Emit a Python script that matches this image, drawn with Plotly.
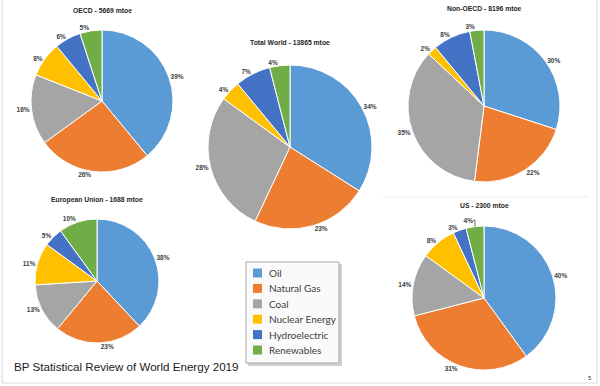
import plotly.graph_objects as go

W, H = 600, 386

sources = ["Oil", "Natural Gas", "Coal", "Nuclear Energy", "Hydroelectric", "Renewables"]
colors = ["#5B9BD5", "#ED7D31", "#A5A5A5", "#FFC000", "#4472C4", "#70AD47"]

oecd = [39, 26, 16, 8, 6, 5]
world = [34, 23, 28, 4, 7, 4]
non_oecd = [30, 22, 35, 2, 8, 3]
eu = [38, 23, 13, 11, 5, 10]
us = [40, 31, 14, 8, 3, 4]

titles = ["OECD - 5669 mtoe", "Total World - 13865 mtoe", "Non-OECD - 8196 mtoe",
          "European Union - 1688 mtoe", "US - 2300 mtoe"]
series = [oecd, world, non_oecd, eu, us]

# layout geometry (pixel centre x, centre y, radius, title y)
geom = [
    (102, 101, 71, 11),
    (290, 147, 82, 43),
    (484, 106, 76, 9),
    (97, 281, 62, 200),
    (484, 298, 72, 205),
]


def px(x):
    return x / W


def py(y):
    return 1 - y / H


fig = go.Figure()
annotations = []
shapes = []
for vals, ttl, (cx, cy, r, ty) in zip(series, titles, geom):
    fig.add_trace(go.Pie(
        labels=sources,
        values=vals,
        sort=False,
        direction="clockwise",
        rotation=0,
        marker=dict(colors=colors, line=dict(color="white", width=1)),
        texttemplate="%{value}%",
        textposition="outside",
        outsidetextfont=dict(family="Liberation Sans", size=6.5, color="#404040", weight="bold"),
        hoverinfo="skip",
        showlegend=False,
        domain=dict(x=[px(cx - r), px(cx + r)], y=[py(cy + r), py(cy - r)]),
    ))
    annotations.append(dict(
        text=f"<b>{ttl}</b>", x=px(cx), y=py(ty), xref="paper", yref="paper",
        xanchor="center", yanchor="middle", showarrow=False,
        font=dict(family="Liberation Sans", size=6.8, color="#262626"),
    ))

# legend box (drawn from the sources / colors lists)
lx0, lx1, ly0, ly1 = 246, 339, 262, 363
shapes.append(dict(type="rect", xref="paper", yref="paper",
                   x0=px(lx0 + 2), x1=px(lx1 + 3), y0=py(ly1 + 3), y1=py(ly0 + 2),
                   fillcolor="#d6d0cc", line=dict(width=0), layer="above"))
shapes.append(dict(type="rect", xref="paper", yref="paper",
                   x0=px(lx0), x1=px(lx1), y0=py(ly1), y1=py(ly0),
                   fillcolor="#fafafa", line=dict(color="#a6a6a6", width=1), layer="above"))
for k, (name, col) in enumerate(zip(sources, colors)):
    yc = 273 + k * 15.4
    shapes.append(dict(type="rect", xref="paper", yref="paper",
                       x0=px(253), x1=px(262), y0=py(yc + 4.5), y1=py(yc - 4.5),
                       fillcolor=col, line=dict(width=0), layer="above"))
    annotations.append(dict(
        text=name, x=px(267), y=py(yc), xref="paper", yref="paper",
        xanchor="left", yanchor="middle", showarrow=False,
        font=dict(family="Lato", size=10, color="#404040"),
    ))

annotations.append(dict(
    text="BP Statistical Review of World Energy 2019", x=px(12), y=py(366),
    xref="paper", yref="paper", xanchor="left", yanchor="middle", showarrow=False,
    font=dict(family="Liberation Sans", size=11.6, color="#1a1a1a"),
))
annotations.append(dict(
    text="5", x=px(590), y=py(378), xref="paper", yref="paper",
    xanchor="center", yanchor="middle", showarrow=False,
    font=dict(family="Liberation Sans", size=6, color="#333333"),
))

line_col = "#d9d9d9"
shapes += [
    dict(type="line", xref="paper", yref="paper", x0=px(2), x1=px(2), y0=py(383), y1=1, line=dict(color=line_col, width=1)),
    dict(type="line", xref="paper", yref="paper", x0=px(2), x1=px(597), y0=py(383), y1=py(383), line=dict(color=line_col, width=1)),
    dict(type="line", xref="paper", yref="paper", x0=px(597), x1=px(597), y0=py(383), y1=1, line=dict(color=line_col, width=1)),
    dict(type="line", xref="paper", yref="paper", x0=px(382), x1=px(588), y0=py(197), y1=py(197), line=dict(color="#ececec", width=1)),
]

fig.update_layout(
    width=W, height=H,
    margin=dict(l=0, r=0, t=0, b=0),
    paper_bgcolor="white",
    annotations=annotations,
    shapes=shapes,
    showlegend=False,
)

fig.write_html("out.html", config={"displayModeBar": False},
               post_script="document.body.style.margin='0';")
